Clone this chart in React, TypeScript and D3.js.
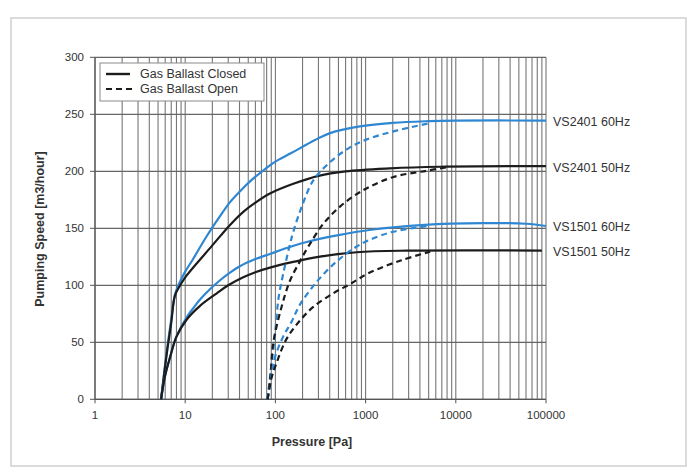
import React from "react";
import * as d3 from "d3";

// Pressure [Pa], Pumping speed [m3/hour]
const vs2401_60_closed: [number, number][] = [
  [5.4, 0], [6.2, 40], [7.0, 70], [7.7, 92], [8.5, 101], [10, 112], [12, 122], [17.3, 143],
  [24, 160], [31.4, 173], [40.5, 182.5], [52, 191], [80, 203], [100, 208.5], [150, 216], [222, 223.5],
  [300, 229], [403, 233.5], [797, 239], [2000, 242.5], [5000, 244], [10000, 244.5], [100000, 244.5],
];
const vs2401_50_closed: [number, number][] = [
  [5.4, 0], [6.2, 38], [7.0, 67], [7.7, 91], [8.8, 100], [10, 107], [20, 135], [31.4, 153],
  [45, 165], [60, 172.5], [87, 180.5], [158, 189], [300, 196], [600, 200], [1862, 202.6],
  [6680, 204], [100000, 204.5],
];
const vs1501_60_closed: [number, number][] = [
  [5.4, 0], [6.0, 21], [6.8, 37], [8, 55], [10.4, 72], [12.3, 80], [14.6, 87.5], [18.8, 96.5],
  [24, 104], [30, 110], [40, 116.5], [60, 123], [87, 127.5], [150, 134], [222, 138], [500, 144],
  [1100, 148.5], [4500, 153], [20000, 154.5], [60000, 154], [100000, 152],
];
const vs1501_50_closed: [number, number][] = [
  [5.4, 0], [6.0, 21], [6.8, 37], [8, 55], [10.4, 70], [14.6, 82], [22.4, 93], [30, 100],
  [44, 107], [60, 111.5], [87, 115.5], [158, 120.5], [300, 125], [797, 129], [2856, 130.4],
  [90000, 130.5],
];
const vs2401_60_open: [number, number][] = [
  [82, 0], [86, 15], [91, 32], [100, 60], [108, 88], [122, 110], [143, 134], [158, 147],
  [196, 169], [263, 192], [403, 208], [671, 221], [1028, 228], [2029, 235], [4955, 242],
];
const vs2401_50_open: [number, number][] = [
  [82, 0], [88, 20], [95, 50], [117, 81], [145, 104], [187, 121], [232, 134], [340, 154],
  [520, 169], [797, 180], [1119, 186.5], [2029, 195], [4755, 200.5], [8000, 203.5],
];
const vs1501_60_open: [number, number][] = [
  [82, 0], [90, 20], [99, 37], [122, 55], [151, 68], [187, 83], [287, 103], [478, 121],
  [797, 134], [1119, 140], [2029, 147], [4955, 152],
];
const vs1501_50_open: [number, number][] = [
  [82, 0], [90, 18], [103, 32], [133, 53], [187, 69], [263, 81], [438, 93], [671, 101],
  [1100, 111], [2500, 122], [5200, 129.5],
];

const seriesLabels = ["VS2401 60Hz", "VS2401 50Hz", "VS1501 60Hz", "VS1501 50Hz"];
const labelValues = [244.5, 204.5, 152.5, 130.5];
const legendLabels = ["Gas Ballast Closed", "Gas Ballast Open"];
const yTicks = [0, 50, 100, 150, 200, 250, 300];
const xTicks = [1, 10, 100, 1000, 10000, 100000];

const BLUE = "#2f87d2";
const BLACK = "#1c1c1c";

export default function App() {
  const x = d3.scaleLog().domain([1, 100000]).range([95, 546]);
  const y = d3.scaleLinear().domain([0, 300]).range([399.3, 57.3]);
  const line = d3
    .line<[number, number]>()
    .x((d) => x(d[0]))
    .y((d) => y(d[1]))
    .curve(d3.curveCatmullRom.alpha(0.5));

  const minor: number[] = [];
  for (let k = 0; k < 5; k++) for (let m = 1; m <= 9; m++) minor.push(m * Math.pow(10, k));
  minor.push(100000);

  const curves = [
    { d: vs2401_60_closed, c: BLUE, dash: undefined },
    { d: vs2401_50_closed, c: BLACK, dash: undefined },
    { d: vs1501_60_closed, c: BLUE, dash: undefined },
    { d: vs1501_50_closed, c: BLACK, dash: undefined },
    { d: vs2401_60_open, c: BLUE, dash: "6,4" },
    { d: vs2401_50_open, c: BLACK, dash: "6,4" },
    { d: vs1501_60_open, c: BLUE, dash: "6,4" },
    { d: vs1501_50_open, c: BLACK, dash: "6,4" },
  ];

  const font = "'Liberation Sans', Arial, sans-serif";

  return (
    <svg
      width={700}
      height={475}
      style={{ position: "absolute", left: 0, top: 0, background: "#fff" }}
      fontFamily={font}
    >
      <rect x={11} y={18} width={675} height={448} fill="#fff" stroke="#cfcfcf" strokeWidth={1.5} />
      {/* vertical grid */}
      {minor.map((v, i) => (
        <line key={"v" + i} x1={x(v)} x2={x(v)} y1={y(300)} y2={y(0)} stroke="#767676" strokeWidth={1.1} />
      ))}
      {/* horizontal grid */}
      {yTicks.map((t) => (
        <line key={"h" + t} x1={x(1)} x2={x(100000)} y1={y(t)} y2={y(t)} stroke="#666" strokeWidth={1.3} />
      ))}
      {/* axis lines and ticks */}
      <line x1={x(1)} x2={x(1)} y1={y(300)} y2={y(0)} stroke="#555" strokeWidth={1.2} />
      <line x1={x(1)} x2={x(100000)} y1={y(0)} y2={y(0)} stroke="#555" strokeWidth={1.2} />
      {yTicks.map((t) => (
        <line key={"yt" + t} x1={90} x2={x(1)} y1={y(t)} y2={y(t)} stroke="#555" strokeWidth={1} />
      ))}
      {xTicks.map((t) => (
        <line key={"xt" + t} x1={x(t)} x2={x(t)} y1={y(0)} y2={y(0) + 4} stroke="#555" strokeWidth={1} />
      ))}
      {yTicks.map((t) => (
        <text key={"yl" + t} x={84} y={y(t)} dy="0.35em" textAnchor="end" fontSize={11.5} fill="#333">
          {t}
        </text>
      ))}
      {xTicks.map((t) => (
        <text key={"xl" + t} x={x(t)} y={419} textAnchor="middle" fontSize={11.5} fill="#333">
          {t}
        </text>
      ))}
      {/* curves */}
      {curves.map((c, i) => (
        <path
          key={"c" + i}
          d={line(c.d) || ""}
          fill="none"
          stroke={c.c}
          strokeWidth={2.2}
          strokeDasharray={c.dash}
        />
      ))}
      {/* series labels */}
      {seriesLabels.map((s, i) => (
        <text key={"s" + i} x={553} y={y(labelValues[i]) + 1} dy="0.35em" fontSize={12.5} fill="#333">
          {s}
        </text>
      ))}
      {/* legend */}
      <rect x={100} y={63} width={164} height={38} fill="#fff" stroke="#8a8a8a" strokeWidth={1} />
      <line x1={106} x2={130} y1={74} y2={74} stroke={BLACK} strokeWidth={2.4} />
      <line x1={106} x2={132} y1={89} y2={89} stroke={BLACK} strokeWidth={2} strokeDasharray="6,4" />
      {legendLabels.map((l, i) => (
        <text key={"l" + i} x={140} y={74 + i * 15} dy="0.35em" fontSize={12.5} fill="#333">
          {l}
        </text>
      ))}
      {/* axis titles */}
      <text x={312} y={446} textAnchor="middle" fontSize={12.5} fontWeight="bold" fill="#333">
        Pressure [Pa]
      </text>
      <text
        transform="translate(44,229) rotate(-90)"
        textAnchor="middle"
        fontSize={12.5}
        fontWeight="bold"
        fill="#333"
      >
        Pumping Speed [m3/hour]
      </text>
    </svg>
  );
}
